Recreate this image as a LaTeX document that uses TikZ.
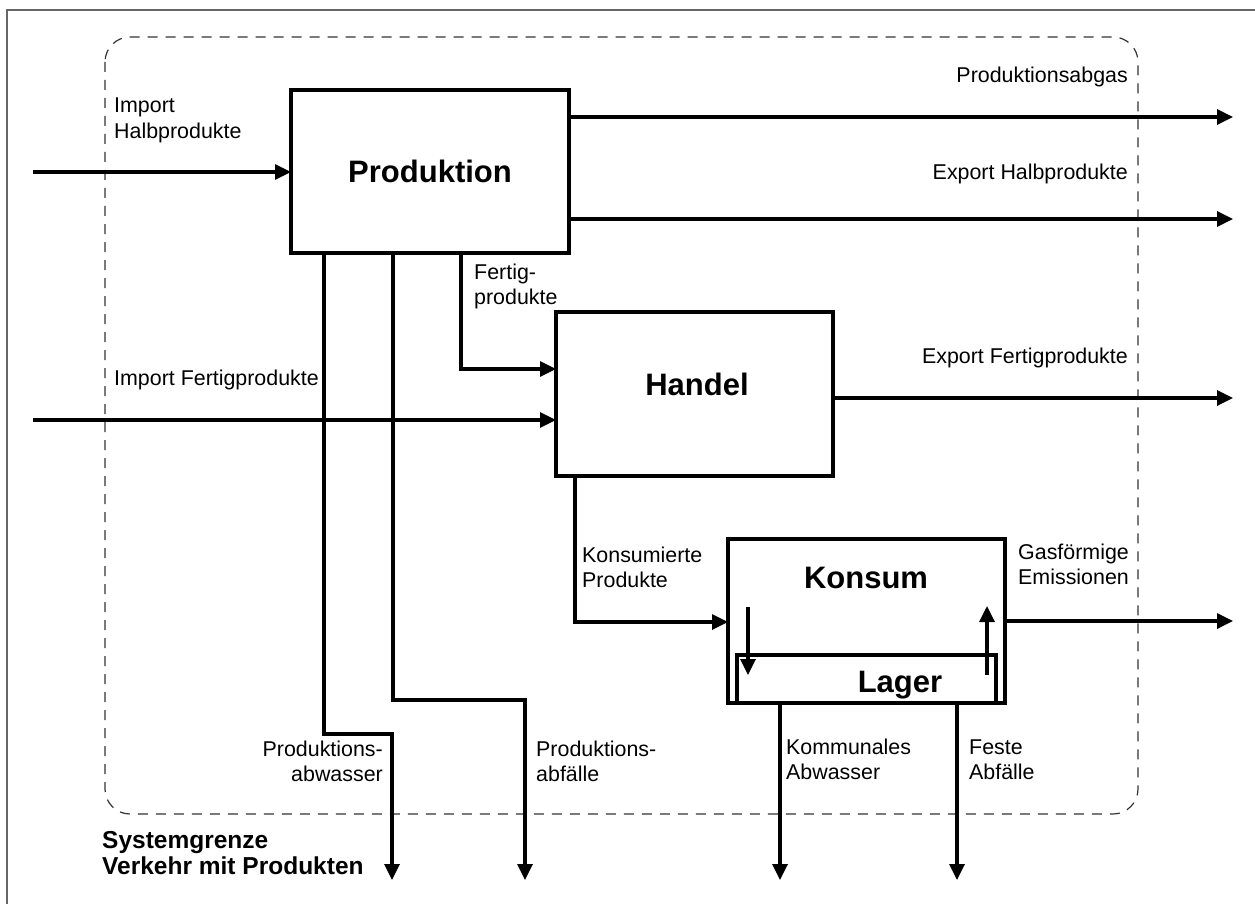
\documentclass[tikz,border=0pt]{standalone}
\usepackage{fontspec}
\setmainfont{Liberation Sans}
\usetikzlibrary{arrows.meta}
\begin{document}
\begin{tikzpicture}[x=1pt,y=-1pt,
  box/.style={draw,line width=3.3pt,inner sep=0pt,outer sep=0pt,anchor=north west},
  flow/.style={line width=3.3pt,-{Triangle[length=16pt,width=15pt]}},
  lbl/.style={font=\fontsize{21.4}{25.5}\selectfont,inner sep=0pt,align=left},
  lblr/.style={font=\fontsize{21.4}{25.5}\selectfont,inner sep=0pt,align=right},
  title/.style={font=\fontsize{31}{36}\selectfont\bfseries,inner sep=0pt,anchor=base},
  boundary/.style={dash pattern=on 10pt off 8pt,line width=1.2pt,black!80,rounded corners=25pt},
]
\useasboundingbox (0,0) rectangle (1255,904);
% outer frame
\draw[line width=1.5pt,black!60] (7,10) rectangle (1262,911);
% system boundary
\draw[boundary] (105,37) rectangle (1138,814);

% process boxes
\node[box,minimum width=278pt,minimum height=163pt] (prod) at (291,90) {};
\node[box,minimum width=277pt,minimum height=164pt] (handel) at (556,312) {};
\node[box,minimum width=277pt,minimum height=164pt] (konsum) at (728,539) {};
\node[box,minimum width=259pt,minimum height=48pt] (lager) at (737,655) {};

\node[title] (tprod) at (430,183) {Produktion};
\node[title] (thandel) at (697,395) {Handel};
\node[title] (tkonsum) at (866,588) {Konsum};
\node[title] (tlager) at (900,692) {Lager};

% flows around Produktion
\coordinate (ih) at (33,172);
\draw[flow] (ih) -- (ih -| prod.west);
\coordinate (pg) at (1233,117);
\draw[flow] (pg -| prod.east) -- (pg);
\coordinate (eh) at (1233,219);
\draw[flow] (eh -| prod.east) -- (eh);

% Fertigprodukte from Produktion to Handel
\coordinate (fp) at (461,369);
\draw[flow] (prod.south -| fp) -- (fp) -- (fp -| handel.west);

% import of finished products, export from Handel
\coordinate (if) at (33,420);
\draw[flow] (if) -- (if -| handel.west);
\coordinate (ef) at (1233,398);
\draw[flow] (ef -| handel.east) -- (ef);

% consumed products
\coordinate (kp) at (575,622);
\draw[flow] (handel.south -| kp) -- (kp) -- (kp -| konsum.west);
\coordinate (ge) at (1233,621);
\draw[flow] (ge -| konsum.east) -- (ge);

% exchange between Konsum and Lager
\coordinate (ld1) at (748,607);
\coordinate (ld2) at (748,675);
\draw[flow] (ld1) -- (ld2);
\coordinate (lu1) at (987,675);
\coordinate (lu2) at (987,606);
\draw[flow] (lu1) -- (lu2);

% production outputs
\coordinate (aw1) at (324,734);
\coordinate (aw2) at (392,734);
\coordinate (aw3) at (392,880);
\draw[flow] (prod.south -| aw1) -- (aw1) -- (aw2) -- (aw3);
\coordinate (af1) at (393,700);
\coordinate (af2) at (525,700);
\coordinate (af3) at (525,880);
\draw[flow] (prod.south -| af1) -- (af1) -- (af2) -- (af3);

% consumption outputs
\coordinate (ka) at (780,880);
\draw[flow] (ka |- lager.south) -- (ka);
\coordinate (fa) at (957,880);
\draw[flow] (fa |- lager.south) -- (fa);

% labels (base anchor of a two-line label sits on its last line)
\node[lbl,anchor=base west] (lih) at (114,138.5) {Import\\Halbprodukte};
\node[lbl,anchor=base east] (lpg) at (1128,83) {Produktionsabgas};
\node[lbl,anchor=base east] (leh) at (1128,180) {Export Halbprodukte};
\node[lbl,anchor=base west] (lfp) at (474,304.5) {Fertig-\\produkte};
\node[lbl,anchor=base west] (lif) at (114,385) {Import Fertigprodukte};
\node[lbl,anchor=base east] (lef) at (1128,363) {Export Fertigprodukte};
\node[lbl,anchor=base west] (lkp) at (582,587.5) {Konsumierte\\Produkte};
\node[lbl,anchor=base west] (lge) at (1018,584.5) {Gasförmige\\Emissionen};
\node[lblr,anchor=base east] (law) at (383,781.5) {Produktions-\\abwasser};
\node[lbl,anchor=base west] (laf) at (536,781.5) {Produktions-\\abfälle};
\node[lbl,anchor=base west] (lka) at (786,779.5) {Kommunales\\Abwasser};
\node[lbl,anchor=base west] (lfa) at (969,779.5) {Feste\\Abfälle};
\node[font=\fontsize{24.5}{26.5}\selectfont\bfseries,inner sep=0pt,align=left,anchor=base west] (lsys) at (102,874.5) {Systemgrenze\\Verkehr mit Produkten};
\end{tikzpicture}
\end{document}
